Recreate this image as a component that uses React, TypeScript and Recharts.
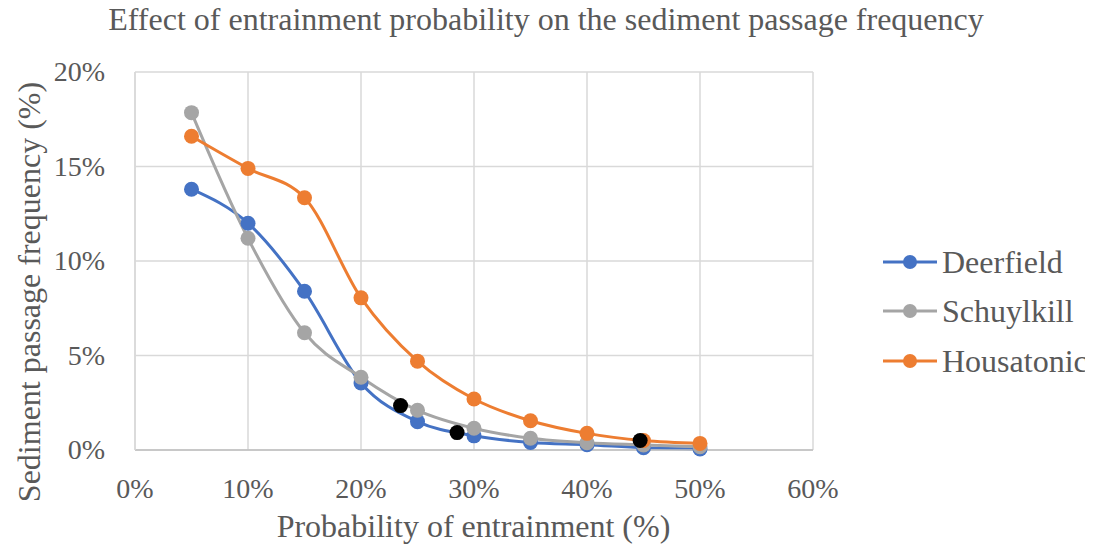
import React from 'react';
import {
  ComposedChart,
  Line,
  XAxis,
  YAxis,
  CartesianGrid,
  Legend,
  Customized,
} from 'recharts';

const entrainment = [5, 10, 15, 20, 25, 30, 35, 40, 45, 50];
const deerfield = [13.8, 12.0, 8.4, 3.55, 1.5, 0.75, 0.4, 0.28, 0.12, 0.05];
const schuylkill = [17.85, 11.2, 6.2, 3.85, 2.1, 1.15, 0.62, 0.38, 0.27, 0.17];
const housatonic = [16.6, 14.9, 13.35, 8.05, 4.7, 2.7, 1.55, 0.88, 0.5, 0.35];
const markerX = [23.5, 28.5, 44.7];
const markerY = [2.35, 0.92, 0.5];
const xTicks = [0, 10, 20, 30, 40, 50, 60];
const yTicks = [0, 5, 10, 15, 20];

const seriesNames = ['Deerfield', 'Schuylkill', 'Housatonic'];
const seriesColors = ['#4472C4', '#A5A5A5', '#ED7D31'];

const FONT = '"Liberation Serif", "Times New Roman", serif';
const TEXT = '#595959';

const toPoints = (ys: number[]) => entrainment.map((x, i) => ({ x, y: ys[i] }));
const seriesData = [toPoints(deerfield), toPoints(schuylkill), toPoints(housatonic)];
const markerData = markerX.map((x, i) => ({ x, y: markerY[i] }));

const XTick = (props: any) => {
  const { x, y, payload } = props;
  return (
    <text x={x} y={y + 40} textAnchor="middle" fill={TEXT} fontSize={28} fontFamily={FONT}>
      {`${payload.value}%`}
    </text>
  );
};

const YTick = (props: any) => {
  const { x, y, payload } = props;
  return (
    <text x={x - 22} y={y + 9} textAnchor="end" fill={TEXT} fontSize={28} fontFamily={FONT}>
      {`${payload.value}%`}
    </text>
  );
};

const Texts = () => (
  <g>
    <text x={546} y={30} textAnchor="middle" fill={TEXT} fontSize={32} fontFamily={FONT}>
      Effect of entrainment probability on the sediment passage frequency
    </text>
    <text x={473.5} y={537} textAnchor="middle" fill={TEXT} fontSize={32} fontFamily={FONT}>
      Probability of entrainment (%)
    </text>
    <text
      x={40}
      y={292}
      textAnchor="middle"
      fill={TEXT}
      fontSize={32}
      fontFamily={FONT}
      transform="rotate(-90 40 292)"
    >
      Sediment passage frequency (%)
    </text>
  </g>
);

const LegendContent = () => (
  <div style={{ fontFamily: FONT, color: TEXT, fontSize: 32, whiteSpace: 'nowrap' }}>
    {seriesNames.map((name, i) => (
      <div key={name} style={{ display: 'flex', alignItems: 'center', height: 49.5 }}>
        <svg width={54} height={20} style={{ marginRight: 5, flexShrink: 0 }}>
          <line x1={0} y1={10} x2={54} y2={10} stroke={seriesColors[i]} strokeWidth={3} />
          <circle cx={27} cy={10} r={7} fill={seriesColors[i]} />
        </svg>
        <span style={{ lineHeight: '32px' }}>{name}</span>
      </div>
    ))}
  </div>
);

export default function App() {
  return (
    <div style={{ margin: -8, width: 1093, height: 552, background: '#fff' }}>
      <ComposedChart
        width={1093}
        height={552}
        margin={{ top: 72, right: 280, bottom: 42, left: 75 }}
      >
        <CartesianGrid stroke="#D9D9D9" strokeWidth={1.5} />
        <XAxis
          type="number"
          dataKey="x"
          domain={[0, 60]}
          ticks={xTicks}
          height={60}
          axisLine={{ stroke: '#BFBFBF', strokeWidth: 1.5 }}
          tickLine={false}
          tick={<XTick />}
          interval={0}
          allowDuplicatedCategory={false}
        />
        <YAxis
          type="number"
          dataKey="y"
          domain={[0, 20]}
          ticks={yTicks}
          width={60}
          axisLine={{ stroke: '#D9D9D9', strokeWidth: 1.5 }}
          tickLine={false}
          tick={<YTick />}
          interval={0}
        />
        {seriesData.map((d, i) => (
          <Line
            key={seriesNames[i]}
            data={d}
            dataKey="y"
            name={seriesNames[i]}
            type="monotone"
            stroke={seriesColors[i]}
            strokeWidth={3}
            dot={{ r: 7.5, fill: seriesColors[i], stroke: seriesColors[i], strokeWidth: 0 }}
            activeDot={false}
            isAnimationActive={false}
          />
        ))}
        <Line
          data={markerData}
          dataKey="y"
          name="markers"
          stroke="none"
          legendType="none"
          dot={{ r: 7.5, fill: '#000', stroke: '#000', strokeWidth: 0 }}
          activeDot={false}
          isAnimationActive={false}
        />
        <Legend
          layout="vertical"
          align="center"
          verticalAlign="middle"
          content={<LegendContent />}
          wrapperStyle={{ left: 883, top: 237, width: 208 }}
        />
        <Customized component={Texts} />
      </ComposedChart>
    </div>
  );
}
